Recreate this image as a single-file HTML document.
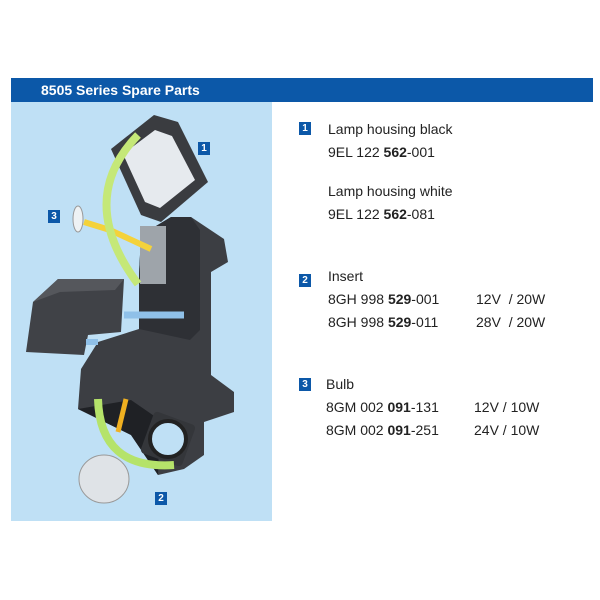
<!DOCTYPE html>
<html><head><style>
body{margin:0;width:600px;height:600px;background:#fff;position:relative;overflow:hidden;font-family:"Liberation Sans",sans-serif}
.hdr{position:absolute;left:11px;top:78px;width:582px;height:24px;background:#0c58a8;color:#fff;font-weight:bold;font-size:14px;line-height:24px}
.hdr span{position:absolute;left:30px}
.panel{position:absolute;left:11px;top:102px;width:261px;height:419px;background:#bfe0f5}
.t{position:absolute;font-size:14px;color:#222;white-space:nowrap}
.n{position:absolute;width:12px;height:13px;background:#0c58a8;color:#fff;font-size:10px;font-weight:bold;text-align:center;line-height:13px}
b{font-weight:bold}
</style></head><body>
<div class="hdr"><span>8505 Series Spare Parts</span></div>
<div class="panel"></div>
<svg style="position:absolute;left:0;top:0" width="600" height="600">
<!-- main bracket -->
<path d="M141 235 L171 217 L191 217 L224 239 L228 262 L211 272 L211 375 L234 392 L234 412 L204 422 L204 455 L184 469 L158 475 L131 435 L78 409 L81 369 L98 342 L139 329 L139 275 Z" fill="#3c3e43"/>
<path d="M171 217 L191 217 L200 230 L200 330 L190 340 L139 329 L139 275 L141 235 Z" fill="#2e3035"/>
<path d="M78 409 L131 400 L160 420 L158 475 L131 435 Z" fill="#1f2125"/>
<!-- ring -->
<rect x="146" y="417" width="44" height="44" rx="4" fill="#34363a" transform="rotate(20 168 439)"/>
<circle cx="168" cy="439" r="18" fill="#bfe0f5" stroke="#222" stroke-width="4"/>
<!-- cover -->
<path d="M26 352 L33 302 L58 279 L124 279 L121 332 L88 335 L84 355 Z" fill="#404247"/>
<path d="M33 302 L58 279 L124 279 L115 290 L60 292 Z" fill="#55575c"/>
<!-- lamp housing -->
<path d="M111 149 L154 115 L178 122 L208 182 L161 222 L141 215 Z" fill="#3a3c40"/>
<path d="M123 154 L155 130 L172 136 L195 180 L160 208 L145 202 Z" fill="#e6eaee"/>
<!-- socket -->
<rect x="140" y="226" width="26" height="58" fill="#9ea4aa"/>
<!-- bulbs -->
<ellipse cx="104" cy="479" rx="25" ry="24" fill="#dfe3e7" stroke="#999"/>
<ellipse cx="78" cy="219" rx="5" ry="13" fill="#eef2f4" stroke="#999"/>
<!-- arrows -->
<path d="M84 222 L110 230 L151 249" stroke="#f4d23a" stroke-width="6" fill="none"/>
<path d="M138 135 Q75 200 138 284" stroke="#c5e878" stroke-width="8" fill="none"/>
<path d="M124 315 L184 315" stroke="#8fc0e8" stroke-width="7" fill="none"/>
<path d="M86 342 L98 342" stroke="#8fc0e8" stroke-width="6" fill="none"/>
<path d="M174 465 Q100 470 98 399" stroke="#b5e36a" stroke-width="8" fill="none"/>
<path d="M118 432 L126 399" stroke="#f0b020" stroke-width="5" fill="none"/>
</svg>
<div class="n" style="left:198px;top:142px">1</div>
<div class="n" style="left:48px;top:210px">3</div>
<div class="n" style="left:155px;top:492px">2</div>
<div class="n" style="left:299px;top:122px">1</div>
<div class="n" style="left:299px;top:274px">2</div>
<div class="n" style="left:299px;top:378px">3</div>
<div class="t" style="left:328px;top:121px">Lamp housing black</div>
<div class="t" style="left:328px;top:144px">9EL 122 <b>562</b>-001</div>
<div class="t" style="left:328px;top:183px">Lamp housing white</div>
<div class="t" style="left:328px;top:206px">9EL 122 <b>562</b>-081</div>
<div class="t" style="left:328px;top:268px">Insert</div>
<div class="t" style="left:328px;top:291px">8GH 998 <b>529</b>-001</div>
<div class="t" style="left:476px;top:291px">12V &nbsp;/ 20W</div>
<div class="t" style="left:328px;top:314px">8GH 998 <b>529</b>-011</div>
<div class="t" style="left:476px;top:314px">28V &nbsp;/ 20W</div>
<div class="t" style="left:326px;top:376px">Bulb</div>
<div class="t" style="left:326px;top:399px">8GM 002 <b>091</b>-131</div>
<div class="t" style="left:474px;top:399px">12V / 10W</div>
<div class="t" style="left:326px;top:422px">8GM 002 <b>091</b>-251</div>
<div class="t" style="left:474px;top:422px">24V / 10W</div>
</body></html>
